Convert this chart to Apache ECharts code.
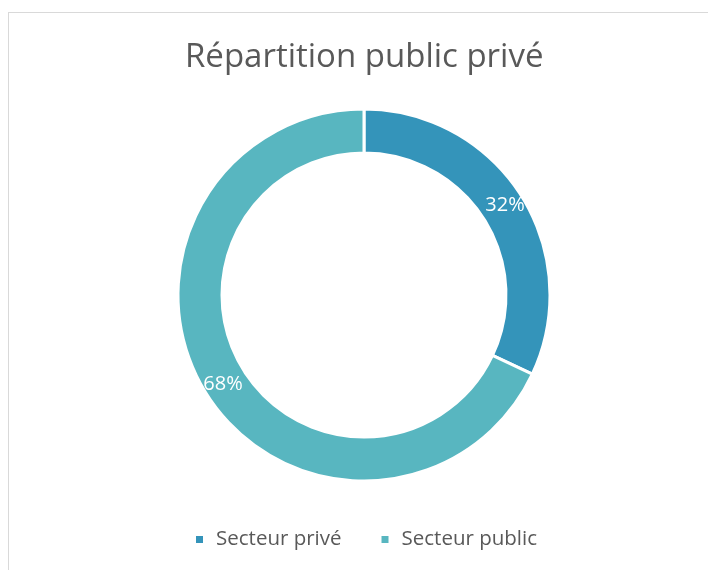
<!DOCTYPE html>
<html>
<head>
<meta charset="utf-8">
<script src="https://cdn.jsdelivr.net/npm/echarts@6/dist/echarts.min.js"></script>
<style>
html,body{margin:0;padding:0;background:#fff;}
#frame{position:absolute;left:8px;top:12px;width:720px;height:580px;border:1px solid #d9d9d9;box-sizing:border-box;}
#chart{position:absolute;left:0;top:0;width:708px;height:570px;}
</style>
</head>
<body>
<div id="frame"></div>
<div id="chart"></div>
<script>
const titleText = "Répartition public privé";
const categories = ["Secteur privé", "Secteur public"];
const values = [32, 68];
const colors = ["#3494BA", "#58B6C0"];

const chart = echarts.init(document.getElementById('chart'), null, {renderer: 'canvas'});
chart.setOption({
  backgroundColor: 'transparent',
  title: {
    text: titleText,
    left: 180,
    top: 36,
    textStyle: {fontFamily: 'Open Sans', fontSize: 33, fontWeight: 'normal', color: '#595959'}
  },
  legend: {
    data: categories,
    top: 524,
    left: 189,
    itemWidth: 9,
    itemHeight: 9,
    itemGap: 38,
    icon: 'rect',
    textStyle: {fontFamily: 'Open Sans', fontSize: 20.5, color: '#595959', padding: [0, 0, 0, 7]}
  },
  series: [{
    type: 'pie',
    center: [364, 295],
    radius: [142, 186],
    startAngle: 90,
    clockwise: true,
    avoidLabelOverlap: false,
    itemStyle: {borderColor: '#fff', borderWidth: 3},
    label: {
      show: true,
      position: 'inside',
      formatter: '{d}%',
      color: '#fff',
      fontFamily: 'Open Sans',
      fontSize: 20
    },
    labelLine: {show: false},
    emphasis: {disabled: true},
    data: categories.map((c, i) => ({name: c, value: values[i], itemStyle: {color: colors[i]}}))
  }]
});
</script>
</body>
</html>
